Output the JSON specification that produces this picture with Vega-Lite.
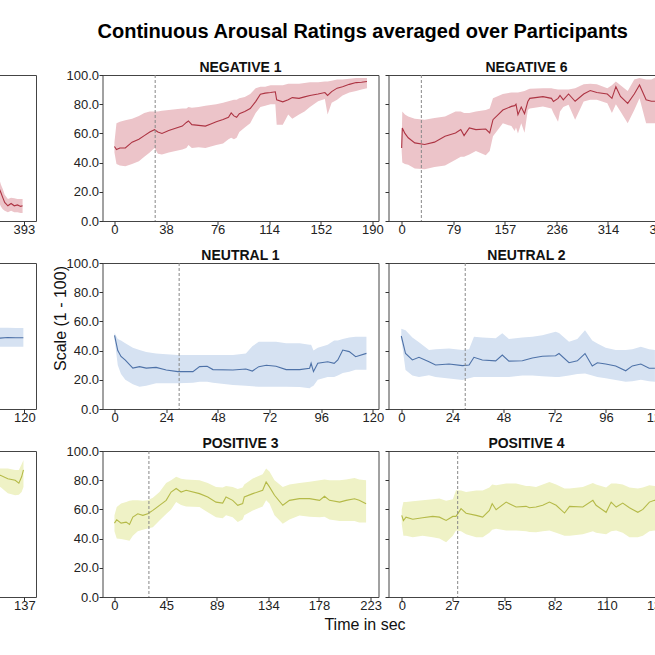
{
  "$schema": "https://vega.github.io/schema/vega-lite/v6.json",
  "padding": {"left": -245, "top": 22, "right": -15, "bottom": 0},
  "background": "white",
  "datasets": {
    "negL": [
      {"t": 340, "m": 35, "lo": 22, "hi": 45},
      {"t": 350, "m": 27, "lo": 17, "hi": 36},
      {"t": 357, "m": 19.5, "lo": 10, "hi": 25},
      {"t": 360, "m": 16, "lo": 8, "hi": 22},
      {"t": 363, "m": 12.7, "lo": 7, "hi": 18},
      {"t": 368, "m": 10.4, "lo": 6, "hi": 15},
      {"t": 373, "m": 12, "lo": 7, "hi": 16},
      {"t": 378, "m": 10.4, "lo": 6, "hi": 15.5},
      {"t": 383, "m": 11, "lo": 6, "hi": 15},
      {"t": 388, "m": 10, "lo": 5.5, "hi": 15},
      {"t": 391, "m": 10.4, "lo": 5.5, "hi": 15}
    ],
    "neg1": [
      {"t": 0, "m": 51, "lo": 47, "hi": 54},
      {"t": 1.5, "m": 49, "lo": 39, "hi": 67},
      {"t": 4, "m": 50, "lo": 38, "hi": 68},
      {"t": 8, "m": 50, "lo": 37.5, "hi": 69},
      {"t": 13, "m": 54, "lo": 39, "hi": 70},
      {"t": 18, "m": 56, "lo": 41, "hi": 72},
      {"t": 22, "m": 58.5, "lo": 44, "hi": 74},
      {"t": 26, "m": 61, "lo": 47, "hi": 75},
      {"t": 29.5, "m": 62.5, "lo": 50, "hi": 75},
      {"t": 32, "m": 61, "lo": 46, "hi": 75},
      {"t": 35, "m": 60, "lo": 45.5, "hi": 75.5},
      {"t": 40, "m": 62, "lo": 47, "hi": 76},
      {"t": 45, "m": 63.5, "lo": 48, "hi": 76.5},
      {"t": 50, "m": 65, "lo": 49, "hi": 77},
      {"t": 53, "m": 67.5, "lo": 50, "hi": 77},
      {"t": 54.5, "m": 68.5, "lo": 52, "hi": 78},
      {"t": 57, "m": 66, "lo": 50, "hi": 77.5},
      {"t": 62, "m": 65.5, "lo": 50.5, "hi": 78},
      {"t": 67, "m": 65, "lo": 50, "hi": 79},
      {"t": 71, "m": 66.5, "lo": 51, "hi": 79.5},
      {"t": 75, "m": 68, "lo": 52, "hi": 80},
      {"t": 80, "m": 69.5, "lo": 53, "hi": 81},
      {"t": 84, "m": 71, "lo": 56, "hi": 82},
      {"t": 86, "m": 74, "lo": 57, "hi": 82.5},
      {"t": 88, "m": 72, "lo": 56, "hi": 83},
      {"t": 90, "m": 71, "lo": 57, "hi": 83},
      {"t": 92, "m": 73.5, "lo": 61, "hi": 84},
      {"t": 96, "m": 75, "lo": 64, "hi": 85},
      {"t": 100, "m": 77, "lo": 67, "hi": 87},
      {"t": 104, "m": 81.8, "lo": 74, "hi": 91},
      {"t": 107.5, "m": 86.9, "lo": 78, "hi": 92},
      {"t": 111, "m": 87.6, "lo": 79, "hi": 92},
      {"t": 115, "m": 88, "lo": 80, "hi": 93},
      {"t": 118.5, "m": 88.5, "lo": 80, "hi": 93},
      {"t": 119.5, "m": 83, "lo": 66, "hi": 93},
      {"t": 124, "m": 81.6, "lo": 66, "hi": 93},
      {"t": 128, "m": 83, "lo": 73, "hi": 94},
      {"t": 131, "m": 84.5, "lo": 70, "hi": 94},
      {"t": 136, "m": 84, "lo": 73, "hi": 94},
      {"t": 140, "m": 85, "lo": 75, "hi": 94.5},
      {"t": 144, "m": 86, "lo": 78, "hi": 95},
      {"t": 150, "m": 87, "lo": 82, "hi": 95},
      {"t": 155, "m": 88, "lo": 83.5, "hi": 95.5},
      {"t": 157, "m": 86, "lo": 73, "hi": 95.5},
      {"t": 160, "m": 88.6, "lo": 81, "hi": 96},
      {"t": 164, "m": 91, "lo": 83, "hi": 97},
      {"t": 168, "m": 92, "lo": 86, "hi": 97},
      {"t": 173, "m": 93.6, "lo": 88, "hi": 97.5},
      {"t": 178, "m": 94.8, "lo": 89, "hi": 98},
      {"t": 182, "m": 95, "lo": 90, "hi": 98},
      {"t": 186, "m": 95.5, "lo": 91, "hi": 98}
    ],
    "neg6": [
      {"t": 0, "m": 50, "lo": 48, "hi": 55},
      {"t": 1, "m": 63.7, "lo": 40, "hi": 75},
      {"t": 5, "m": 60, "lo": 39, "hi": 73},
      {"t": 10, "m": 57, "lo": 38.5, "hi": 71.5},
      {"t": 20, "m": 53.5, "lo": 36, "hi": 70},
      {"t": 35, "m": 52.4, "lo": 35.4, "hi": 69.4},
      {"t": 50, "m": 54, "lo": 37, "hi": 70.5},
      {"t": 66, "m": 58, "lo": 38, "hi": 71.6},
      {"t": 82, "m": 60.3, "lo": 42, "hi": 75},
      {"t": 90, "m": 62.6, "lo": 44, "hi": 75},
      {"t": 95, "m": 58.5, "lo": 44, "hi": 74},
      {"t": 103, "m": 63.7, "lo": 45.6, "hi": 74},
      {"t": 113, "m": 62.6, "lo": 48, "hi": 75},
      {"t": 128, "m": 63, "lo": 45, "hi": 76},
      {"t": 134, "m": 60.3, "lo": 48, "hi": 77},
      {"t": 139, "m": 69.4, "lo": 58, "hi": 84},
      {"t": 154, "m": 76, "lo": 67, "hi": 87},
      {"t": 167, "m": 78.5, "lo": 65, "hi": 88},
      {"t": 172, "m": 79, "lo": 61.7, "hi": 88},
      {"t": 174, "m": 80, "lo": 64, "hi": 88},
      {"t": 177, "m": 72.8, "lo": 60, "hi": 88},
      {"t": 182, "m": 78, "lo": 67, "hi": 88.5},
      {"t": 187, "m": 73.5, "lo": 60.5, "hi": 89},
      {"t": 192, "m": 81.8, "lo": 76, "hi": 90},
      {"t": 195, "m": 84, "lo": 77, "hi": 90.5},
      {"t": 215, "m": 85.2, "lo": 78.5, "hi": 91},
      {"t": 228, "m": 84, "lo": 77, "hi": 91},
      {"t": 231, "m": 81.8, "lo": 74, "hi": 90.5},
      {"t": 238, "m": 84, "lo": 68, "hi": 90},
      {"t": 241, "m": 86, "lo": 75, "hi": 90},
      {"t": 246, "m": 83, "lo": 78, "hi": 90},
      {"t": 254, "m": 87, "lo": 79.6, "hi": 90},
      {"t": 264, "m": 82, "lo": 69.4, "hi": 91},
      {"t": 277, "m": 87, "lo": 81.8, "hi": 93.6},
      {"t": 287, "m": 89.4, "lo": 83, "hi": 94},
      {"t": 297, "m": 88, "lo": 83, "hi": 93.6},
      {"t": 313, "m": 87, "lo": 80.6, "hi": 91},
      {"t": 320, "m": 84, "lo": 74, "hi": 93},
      {"t": 326, "m": 92, "lo": 80, "hi": 95.5},
      {"t": 333, "m": 85.3, "lo": 75, "hi": 93},
      {"t": 344, "m": 80.6, "lo": 67, "hi": 89},
      {"t": 354, "m": 87, "lo": 76, "hi": 97},
      {"t": 362, "m": 93.2, "lo": 84, "hi": 98},
      {"t": 372, "m": 83, "lo": 67, "hi": 97},
      {"t": 380, "m": 82, "lo": 67, "hi": 97},
      {"t": 390, "m": 82, "lo": 67, "hi": 99}
    ],
    "neuL": [
      {"t": 100, "m": 47, "lo": 40, "hi": 54},
      {"t": 108, "m": 48.5, "lo": 42.7, "hi": 55.7},
      {"t": 112, "m": 49, "lo": 42.7, "hi": 55.7},
      {"t": 116, "m": 48.8, "lo": 42.7, "hi": 55.5},
      {"t": 119.5, "m": 48.8, "lo": 42.7, "hi": 55.5}
    ],
    "neu1": [
      {"t": 0, "m": 50.5, "lo": 48, "hi": 52},
      {"t": 1.5, "m": 40, "lo": 30, "hi": 48},
      {"t": 3, "m": 36, "lo": 24, "hi": 47},
      {"t": 5, "m": 33.5, "lo": 20, "hi": 45},
      {"t": 8.5, "m": 28, "lo": 17, "hi": 42},
      {"t": 11.6, "m": 29, "lo": 15.3, "hi": 40.4},
      {"t": 14.7, "m": 28, "lo": 16, "hi": 39},
      {"t": 19.3, "m": 28.5, "lo": 17.6, "hi": 38},
      {"t": 24, "m": 26.7, "lo": 17.6, "hi": 37.5},
      {"t": 29.4, "m": 25.6, "lo": 17.6, "hi": 37},
      {"t": 36.4, "m": 25.6, "lo": 18, "hi": 37},
      {"t": 39.5, "m": 29, "lo": 18.7, "hi": 37},
      {"t": 43, "m": 29.3, "lo": 18.7, "hi": 37},
      {"t": 45.7, "m": 27, "lo": 18, "hi": 37},
      {"t": 55, "m": 26.7, "lo": 16.4, "hi": 37},
      {"t": 61, "m": 27.4, "lo": 16, "hi": 38},
      {"t": 64, "m": 26, "lo": 15.5, "hi": 43},
      {"t": 67, "m": 29, "lo": 15.3, "hi": 46},
      {"t": 70.5, "m": 30, "lo": 15.3, "hi": 46},
      {"t": 75, "m": 29.3, "lo": 15.3, "hi": 46},
      {"t": 79.7, "m": 27, "lo": 15.3, "hi": 45},
      {"t": 86, "m": 27, "lo": 15, "hi": 45},
      {"t": 90.6, "m": 27.9, "lo": 14.2, "hi": 44},
      {"t": 91.3, "m": 31.3, "lo": 15, "hi": 44},
      {"t": 92.4, "m": 25.6, "lo": 16, "hi": 40},
      {"t": 94.4, "m": 31.3, "lo": 20, "hi": 42},
      {"t": 99, "m": 32.4, "lo": 22, "hi": 44},
      {"t": 102, "m": 31.3, "lo": 22, "hi": 47},
      {"t": 103.7, "m": 33.6, "lo": 23, "hi": 47},
      {"t": 106, "m": 40.4, "lo": 24.6, "hi": 48},
      {"t": 109, "m": 39.3, "lo": 25.5, "hi": 49},
      {"t": 112, "m": 35.8, "lo": 26.9, "hi": 49.5},
      {"t": 117, "m": 38.1, "lo": 26.9, "hi": 49.5}
    ],
    "neu2": [
      {"t": 0, "m": 50, "lo": 48, "hi": 55},
      {"t": 2, "m": 38, "lo": 26.7, "hi": 54},
      {"t": 5.2, "m": 33.6, "lo": 23, "hi": 49},
      {"t": 8.3, "m": 35.4, "lo": 22, "hi": 45.7},
      {"t": 13, "m": 32.4, "lo": 23.2, "hi": 40.4},
      {"t": 16.1, "m": 30.1, "lo": 22, "hi": 41},
      {"t": 22.4, "m": 30.8, "lo": 20.9, "hi": 41.5},
      {"t": 28.7, "m": 29.7, "lo": 19.8, "hi": 40.4},
      {"t": 31.8, "m": 30.1, "lo": 21, "hi": 41},
      {"t": 34.1, "m": 35.4, "lo": 22, "hi": 49.5},
      {"t": 38, "m": 33.6, "lo": 22, "hi": 49},
      {"t": 44.3, "m": 33, "lo": 22, "hi": 48.4},
      {"t": 47.4, "m": 37, "lo": 22, "hi": 51.8},
      {"t": 50.5, "m": 32.8, "lo": 22, "hi": 48},
      {"t": 56.8, "m": 33, "lo": 23, "hi": 49},
      {"t": 61.5, "m": 34.9, "lo": 23, "hi": 49.5},
      {"t": 66.2, "m": 36.1, "lo": 22.5, "hi": 50.5},
      {"t": 72.4, "m": 36.5, "lo": 22, "hi": 52.9},
      {"t": 74, "m": 38, "lo": 22, "hi": 52},
      {"t": 78.7, "m": 31.7, "lo": 23, "hi": 46},
      {"t": 82.6, "m": 33, "lo": 24, "hi": 48},
      {"t": 86.2, "m": 38, "lo": 24.3, "hi": 54},
      {"t": 89.6, "m": 29.5, "lo": 23, "hi": 47},
      {"t": 92, "m": 31.7, "lo": 22, "hi": 44.8},
      {"t": 95.9, "m": 30.8, "lo": 21, "hi": 42},
      {"t": 100.6, "m": 29.5, "lo": 19.8, "hi": 40.4},
      {"t": 105.3, "m": 26.2, "lo": 18.7, "hi": 40.4},
      {"t": 108.4, "m": 29.5, "lo": 19, "hi": 41},
      {"t": 112.4, "m": 30.8, "lo": 20, "hi": 42.6},
      {"t": 116.3, "m": 27.9, "lo": 19, "hi": 41},
      {"t": 119, "m": 27.9, "lo": 18.7, "hi": 40.4}
    ],
    "posL": [
      {"t": 115, "m": 80, "lo": 70, "hi": 88},
      {"t": 124, "m": 83.4, "lo": 75.4, "hi": 88},
      {"t": 128, "m": 81, "lo": 71, "hi": 88},
      {"t": 132, "m": 80, "lo": 69.7, "hi": 87},
      {"t": 134, "m": 78, "lo": 70, "hi": 87},
      {"t": 135.5, "m": 82.3, "lo": 72, "hi": 91},
      {"t": 136.5, "m": 87, "lo": 75.4, "hi": 93.8}
    ],
    "pos3": [
      {"t": 0, "m": 50.6, "lo": 45, "hi": 56},
      {"t": 2, "m": 52.9, "lo": 40, "hi": 61.6},
      {"t": 5.8, "m": 50.6, "lo": 39.8, "hi": 64},
      {"t": 10.2, "m": 51.3, "lo": 39, "hi": 65},
      {"t": 13.1, "m": 49.7, "lo": 38.6, "hi": 66},
      {"t": 16, "m": 54.7, "lo": 42, "hi": 66.2},
      {"t": 20.3, "m": 57, "lo": 45, "hi": 66.2},
      {"t": 24.7, "m": 55.9, "lo": 46, "hi": 66},
      {"t": 29, "m": 57, "lo": 47, "hi": 66.2},
      {"t": 33.4, "m": 59.3, "lo": 47.8, "hi": 68},
      {"t": 39.2, "m": 62.8, "lo": 52.4, "hi": 71.9},
      {"t": 45, "m": 66.2, "lo": 56.9, "hi": 78},
      {"t": 49.3, "m": 71.9, "lo": 60, "hi": 80},
      {"t": 53.7, "m": 74.3, "lo": 65, "hi": 82.3},
      {"t": 58, "m": 71.9, "lo": 63, "hi": 81},
      {"t": 62.4, "m": 73.1, "lo": 62, "hi": 80.5},
      {"t": 74, "m": 70.8, "lo": 61.6, "hi": 80},
      {"t": 81.2, "m": 68.5, "lo": 58, "hi": 78},
      {"t": 88.4, "m": 65, "lo": 54.7, "hi": 75.4},
      {"t": 94.2, "m": 64.3, "lo": 54, "hi": 75},
      {"t": 97.1, "m": 68.5, "lo": 56, "hi": 76},
      {"t": 102.9, "m": 66.2, "lo": 54.7, "hi": 75.4},
      {"t": 107.3, "m": 62.8, "lo": 51.3, "hi": 74},
      {"t": 111.6, "m": 64, "lo": 53, "hi": 75},
      {"t": 113, "m": 68.5, "lo": 56, "hi": 77},
      {"t": 120.4, "m": 70.8, "lo": 59.3, "hi": 81.1},
      {"t": 129, "m": 73.1, "lo": 62, "hi": 84},
      {"t": 132, "m": 78.8, "lo": 66.2, "hi": 88},
      {"t": 134.9, "m": 75.4, "lo": 64, "hi": 86},
      {"t": 139.3, "m": 69.7, "lo": 56, "hi": 80},
      {"t": 146.5, "m": 62.8, "lo": 50.2, "hi": 75.4},
      {"t": 152.3, "m": 66.2, "lo": 53, "hi": 77},
      {"t": 161, "m": 67.4, "lo": 55.9, "hi": 78},
      {"t": 169.8, "m": 67.4, "lo": 55, "hi": 79},
      {"t": 178.5, "m": 66.2, "lo": 54.7, "hi": 80},
      {"t": 182.8, "m": 69, "lo": 55, "hi": 80.5},
      {"t": 187.2, "m": 66.2, "lo": 53, "hi": 80},
      {"t": 196, "m": 65, "lo": 52, "hi": 80},
      {"t": 201.6, "m": 66.2, "lo": 52, "hi": 80.5},
      {"t": 208.9, "m": 67.3, "lo": 52, "hi": 81.5},
      {"t": 213, "m": 66.2, "lo": 51, "hi": 80.5},
      {"t": 219, "m": 63.9, "lo": 51, "hi": 80}
    ],
    "pos4": [
      {"t": 0, "m": 55.9, "lo": 50, "hi": 60},
      {"t": 0.9, "m": 52.4, "lo": 42, "hi": 65},
      {"t": 2.3, "m": 54.7, "lo": 42, "hi": 65},
      {"t": 5.9, "m": 53.3, "lo": 41, "hi": 65.5},
      {"t": 11.2, "m": 54.3, "lo": 42, "hi": 66.2},
      {"t": 16.6, "m": 55.2, "lo": 41, "hi": 67},
      {"t": 20.2, "m": 54.7, "lo": 40, "hi": 67.4},
      {"t": 23.8, "m": 52.4, "lo": 37.5, "hi": 66},
      {"t": 27.4, "m": 55.2, "lo": 42, "hi": 67},
      {"t": 29.1, "m": 55.2, "lo": 45.5, "hi": 73.1},
      {"t": 31.8, "m": 60.5, "lo": 45, "hi": 73},
      {"t": 34.5, "m": 57.4, "lo": 43, "hi": 72},
      {"t": 39.9, "m": 55.9, "lo": 41, "hi": 73},
      {"t": 43.4, "m": 54.7, "lo": 41, "hi": 73},
      {"t": 47, "m": 59.3, "lo": 44, "hi": 75},
      {"t": 48.5, "m": 63.9, "lo": 46, "hi": 77},
      {"t": 50.6, "m": 59.8, "lo": 46.7, "hi": 76.6},
      {"t": 56, "m": 65, "lo": 45.5, "hi": 77.7},
      {"t": 61.3, "m": 61.6, "lo": 45.5, "hi": 77.7},
      {"t": 66.7, "m": 62.1, "lo": 45, "hi": 76},
      {"t": 68.5, "m": 61.1, "lo": 44.5, "hi": 76},
      {"t": 72, "m": 61.6, "lo": 44.4, "hi": 75.4},
      {"t": 75.6, "m": 62.8, "lo": 45, "hi": 77},
      {"t": 79.2, "m": 65, "lo": 45.5, "hi": 78.8},
      {"t": 82.8, "m": 62.8, "lo": 44, "hi": 77},
      {"t": 87.3, "m": 57.5, "lo": 42, "hi": 74.3},
      {"t": 90, "m": 62.1, "lo": 42, "hi": 74.3},
      {"t": 97.1, "m": 61.6, "lo": 43, "hi": 75.4},
      {"t": 102.5, "m": 66.2, "lo": 45, "hi": 78},
      {"t": 104.2, "m": 62.8, "lo": 44, "hi": 77},
      {"t": 109.6, "m": 58, "lo": 43, "hi": 75},
      {"t": 112.3, "m": 65, "lo": 45, "hi": 77.7},
      {"t": 115, "m": 61.6, "lo": 45.5, "hi": 77.7},
      {"t": 118.5, "m": 64.3, "lo": 44, "hi": 77},
      {"t": 122.1, "m": 61.1, "lo": 41, "hi": 75},
      {"t": 126.6, "m": 58, "lo": 40.9, "hi": 74.3},
      {"t": 129.3, "m": 60, "lo": 42, "hi": 75},
      {"t": 132.8, "m": 65, "lo": 45, "hi": 76.6},
      {"t": 135.5, "m": 66.2, "lo": 45.5, "hi": 76},
      {"t": 138, "m": 66, "lo": 45, "hi": 76}
    ],
    "onset": [{"t": 30}]
  },
  "hconcat": [
    {
      "vconcat": [
        {
          "width": 276, "height": 146,
          "data": {"name": "negL"},
          "encoding": {"x": {"field": "t", "type": "quantitative", "scale": {"domain": [-20, 412], "nice": false, "zero": false}, "axis": {"title": null, "values": [0, 79, 157, 236, 314, 393]}}},
          "layer": [
            {"mark": {"type": "area", "color": "#ecc4c9"}, "encoding": {"y": {"field": "lo", "type": "quantitative", "scale": {"domain": [0, 100], "nice": false}, "axis": {"title": null, "values": [0, 20, 40, 60, 80, 100], "labels": false}}, "y2": {"field": "hi"}}},
            {"mark": {"type": "line", "color": "#ad3443", "strokeWidth": 1.1}, "encoding": {"y": {"field": "m", "type": "quantitative", "axis": {"title": null, "values": [0, 20, 40, 60, 80, 100], "labels": false}}}},
            {"data": {"name": "onset"}, "mark": {"type": "rule", "color": "#888888", "strokeDash": [3, 2], "strokeWidth": 1}, "encoding": {}}
          ]
        },
        {
          "width": 276, "height": 146,
          "data": {"name": "neuL"},
          "encoding": {"x": {"field": "t", "type": "quantitative", "scale": {"domain": [-5.5, 125.5], "nice": false, "zero": false}, "axis": {"title": null, "values": [0, 24, 48, 72, 96, 120]}}},
          "layer": [
            {"mark": {"type": "area", "color": "#d6e2f2"}, "encoding": {"y": {"field": "lo", "type": "quantitative", "scale": {"domain": [0, 100], "nice": false}, "axis": {"title": null, "values": [0, 20, 40, 60, 80, 100], "labels": false}}, "y2": {"field": "hi"}}},
            {"mark": {"type": "line", "color": "#4e72a8", "strokeWidth": 1.1}, "encoding": {"y": {"field": "m", "type": "quantitative", "axis": {"title": null, "values": [0, 20, 40, 60, 80, 100], "labels": false}}}},
            {"data": {"name": "onset"}, "mark": {"type": "rule", "color": "#888888", "strokeDash": [3, 2], "strokeWidth": 1}, "encoding": {}}
          ]
        },
        {
          "width": 276, "height": 146,
          "data": {"name": "posL"},
          "encoding": {"x": {"field": "t", "type": "quantitative", "scale": {"domain": [-6.5, 143.3], "nice": false, "zero": false}, "axis": {"title": null, "values": [0, 27, 55, 82, 110, 137]}}},
          "layer": [
            {"mark": {"type": "area", "color": "#eff2c6"}, "encoding": {"y": {"field": "lo", "type": "quantitative", "scale": {"domain": [0, 100], "nice": false}, "axis": {"title": null, "values": [0, 20, 40, 60, 80, 100], "labels": false}}, "y2": {"field": "hi"}}},
            {"mark": {"type": "line", "color": "#b5ba48", "strokeWidth": 1.1}, "encoding": {"y": {"field": "m", "type": "quantitative", "axis": {"title": null, "values": [0, 20, 40, 60, 80, 100], "labels": false}}}},
            {"data": {"name": "onset"}, "mark": {"type": "rule", "color": "#888888", "strokeDash": [3, 2], "strokeWidth": 1}, "encoding": {}}
          ]
        }
      ],
      "spacing": 42,
      "bounds": "flush"
    },
    {
      "title": {"text": "Continuous Arousal Ratings averaged over Participants", "anchor": "start", "dx": 45.5, "fontSize": 20, "fontWeight": "bold", "offset": 18, "color": "#000000"},
      "columns": 2,
      "spacing": {"row": 42, "column": 10},
      "bounds": "flush",
      "concat": [
        {
          "width": 276, "height": 146,
          "title": {"text": "NEGATIVE 1", "offset": -6},
          "data": {"name": "neg1"},
          "encoding": {"x": {"field": "t", "type": "quantitative", "scale": {"domain": [-8.8, 194.5], "nice": false, "zero": false}, "axis": {"title": null, "values": [0, 38, 76, 114, 152, 190]}}},
          "layer": [
            {"mark": {"type": "area", "color": "#ecc4c9"}, "encoding": {"y": {"field": "lo", "type": "quantitative", "scale": {"domain": [0, 100], "nice": false}, "axis": {"title": null, "values": [0, 20, 40, 60, 80, 100], "format": ".1f"}}, "y2": {"field": "hi"}}},
            {"mark": {"type": "line", "color": "#ad3443", "strokeWidth": 1.1}, "encoding": {"y": {"field": "m", "type": "quantitative", "axis": {"title": null, "values": [0, 20, 40, 60, 80, 100], "format": ".1f"}}}},
            {"data": {"name": "onset"}, "mark": {"type": "rule", "color": "#888888", "strokeDash": [3, 2], "strokeWidth": 1}, "encoding": {}}
          ]
        },
        {
          "width": 276, "height": 146,
          "title": {"text": "NEGATIVE 6", "offset": 0},
          "data": {"name": "neg6"},
          "encoding": {"x": {"field": "t", "type": "quantitative", "scale": {"domain": [-20, 400], "nice": false, "zero": false}, "axis": {"title": null, "values": [0, 79, 157, 236, 314, 393]}}},
          "layer": [
            {"mark": {"type": "area", "color": "#ecc4c9"}, "encoding": {"y": {"field": "lo", "type": "quantitative", "scale": {"domain": [0, 100], "nice": false}, "axis": {"title": null, "values": [0, 20, 40, 60, 80, 100], "labels": false}}, "y2": {"field": "hi"}}},
            {"mark": {"type": "line", "color": "#ad3443", "strokeWidth": 1.1}, "encoding": {"y": {"field": "m", "type": "quantitative", "axis": {"title": null, "values": [0, 20, 40, 60, 80, 100], "labels": false}}}},
            {"data": {"name": "onset"}, "mark": {"type": "rule", "color": "#888888", "strokeDash": [3, 2], "strokeWidth": 1}, "encoding": {}}
          ]
        },
        {
          "width": 276, "height": 146,
          "title": {"text": "NEUTRAL 1", "offset": -6},
          "data": {"name": "neu1"},
          "encoding": {"x": {"field": "t", "type": "quantitative", "scale": {"domain": [-5.6, 122.6], "nice": false, "zero": false}, "axis": {"title": null, "values": [0, 24, 48, 72, 96, 120]}}},
          "layer": [
            {"mark": {"type": "area", "color": "#d6e2f2"}, "encoding": {"y": {"field": "lo", "type": "quantitative", "scale": {"domain": [0, 100], "nice": false}, "axis": {"title": "Scale (1 - 100)", "titleX": -37, "titleY": 55, "titleAngle": -90, "titleAlign": "center", "titleBaseline": "alphabetic", "values": [0, 20, 40, 60, 80, 100], "format": ".1f"}}, "y2": {"field": "hi"}}},
            {"mark": {"type": "line", "color": "#4e72a8", "strokeWidth": 1.1}, "encoding": {"y": {"field": "m", "type": "quantitative", "axis": {"title": "Scale (1 - 100)", "titleX": -37, "titleY": 55, "titleAngle": -90, "titleAlign": "center", "titleBaseline": "alphabetic", "values": [0, 20, 40, 60, 80, 100], "format": ".1f"}}}},
            {"data": {"name": "onset"}, "mark": {"type": "rule", "color": "#888888", "strokeDash": [3, 2], "strokeWidth": 1}, "encoding": {}}
          ]
        },
        {
          "width": 276, "height": 146,
          "title": {"text": "NEUTRAL 2", "offset": 0},
          "data": {"name": "neu2"},
          "encoding": {"x": {"field": "t", "type": "quantitative", "scale": {"domain": [-6, 123.5], "nice": false, "zero": false}, "axis": {"title": null, "values": [0, 24, 48, 72, 96, 120]}}},
          "layer": [
            {"mark": {"type": "area", "color": "#d6e2f2"}, "encoding": {"y": {"field": "lo", "type": "quantitative", "scale": {"domain": [0, 100], "nice": false}, "axis": {"title": null, "values": [0, 20, 40, 60, 80, 100], "labels": false}}, "y2": {"field": "hi"}}},
            {"mark": {"type": "line", "color": "#4e72a8", "strokeWidth": 1.1}, "encoding": {"y": {"field": "m", "type": "quantitative", "axis": {"title": null, "values": [0, 20, 40, 60, 80, 100], "labels": false}}}},
            {"data": {"name": "onset"}, "mark": {"type": "rule", "color": "#888888", "strokeDash": [3, 2], "strokeWidth": 1}, "encoding": {}}
          ]
        },
        {
          "width": 276, "height": 146,
          "title": {"text": "POSITIVE 3", "offset": -6},
          "data": {"name": "pos3"},
          "encoding": {"x": {"field": "t", "type": "quantitative", "scale": {"domain": [-10.4, 229.8], "nice": false, "zero": false}, "axis": {"title": "Time in sec", "titleX": 262, "titleY": 32.5, "titleAlign": "center", "titleBaseline": "alphabetic", "values": [0, 45, 89, 134, 178, 223]}}},
          "layer": [
            {"mark": {"type": "area", "color": "#eff2c6"}, "encoding": {"y": {"field": "lo", "type": "quantitative", "scale": {"domain": [0, 100], "nice": false}, "axis": {"title": null, "values": [0, 20, 40, 60, 80, 100], "format": ".1f"}}, "y2": {"field": "hi"}}},
            {"mark": {"type": "line", "color": "#b5ba48", "strokeWidth": 1.1}, "encoding": {"y": {"field": "m", "type": "quantitative", "axis": {"title": null, "values": [0, 20, 40, 60, 80, 100], "format": ".1f"}}}},
            {"data": {"name": "onset"}, "mark": {"type": "rule", "color": "#888888", "strokeDash": [3, 2], "strokeWidth": 1}, "encoding": {}}
          ]
        },
        {
          "width": 276, "height": 146,
          "title": {"text": "POSITIVE 4", "offset": 0},
          "data": {"name": "pos4"},
          "encoding": {"x": {"field": "t", "type": "quantitative", "scale": {"domain": [-7.1, 140.9], "nice": false, "zero": false}, "axis": {"title": null, "values": [0, 27, 55, 82, 110, 137]}}},
          "layer": [
            {"mark": {"type": "area", "color": "#eff2c6"}, "encoding": {"y": {"field": "lo", "type": "quantitative", "scale": {"domain": [0, 100], "nice": false}, "axis": {"title": null, "values": [0, 20, 40, 60, 80, 100], "labels": false}}, "y2": {"field": "hi"}}},
            {"mark": {"type": "line", "color": "#b5ba48", "strokeWidth": 1.1}, "encoding": {"y": {"field": "m", "type": "quantitative", "axis": {"title": null, "values": [0, 20, 40, 60, 80, 100], "labels": false}}}},
            {"data": {"name": "onset"}, "mark": {"type": "rule", "color": "#888888", "strokeDash": [3, 2], "strokeWidth": 1}, "encoding": {}}
          ]
        }
      ]
    }
  ],
  "spacing": 14.5,
  "config": {
    "font": "Liberation Sans",
    "view": {"stroke": "#444444", "strokeWidth": 1},
    "axis": {"grid": false, "domain": false, "tickColor": "#333333", "tickSize": 3.5, "tickWidth": 1, "labelFontSize": 13, "labelColor": "#222222", "labelFont": "Liberation Sans", "labelFlush": false, "labelOverlap": false, "titleFont": "Liberation Sans", "titleFontSize": 16, "titleFontWeight": "normal", "titleColor": "#111111"},
    "axisX": {"labelPadding": -1},
    "axisY": {"labelPadding": 0.5},
    "title": {"font": "Liberation Sans", "fontSize": 14, "fontWeight": "bold", "color": "#111111", "offset": 3}
  }
}
